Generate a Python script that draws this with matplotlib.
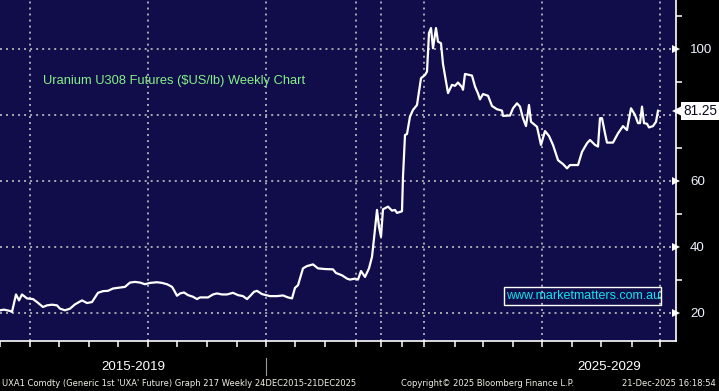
import matplotlib

matplotlib.use("Agg")

import matplotlib.pyplot as plt
import matplotlib.transforms as mtransforms
from matplotlib.patches import Rectangle


WIDTH = 719
HEIGHT = 391
DPI = 100

PANEL = "#100d4a"
OUTER = "#000000"
GRID = "#a9a9b4"
WHITE = "#ffffff"
TITLE_GREEN = "#86f086"
URL_CYAN = "#10e4f0"
FOOT = "#f2f0e2"

# Bloomberg plots by observation position, not calendar time.
obs = [
    0, 4, 10, 12, 16, 19, 22, 27, 33, 37, 43, 47, 52, 57, 60, 65, 70, 75,
    82, 87, 92, 98, 103, 108, 113, 120, 125, 130, 135, 140, 145, 150, 157,
    162, 167, 172, 174, 177, 180, 184, 188, 193, 197, 200, 208, 213, 217,
    222, 227, 233, 238, 243, 247, 250, 254, 257, 262, 270, 277, 283, 288,
    292, 295, 298, 303, 307, 313, 318, 325, 333, 336, 342, 347, 350, 355,
    358, 361, 365, 369, 372, 374, 377, 379, 381, 383, 388, 392, 395, 397,
    402, 403, 405, 407, 410, 413, 417, 421, 425, 427, 429, 431, 433, 436,
    438, 441, 443, 448, 452, 455, 458, 462, 463, 465, 472, 475, 478, 480,
    483, 488, 492, 497, 502, 503, 510, 513, 517, 520, 523, 526, 529, 531,
    537, 541, 545, 549, 553, 558, 560, 563, 567, 570, 578, 582, 587, 590,
    595, 598, 600, 602, 605, 607, 613, 618, 623, 627, 631, 635, 638, 640,
    642, 644, 647, 649, 653, 656, 658,
]
price = [
    20.8, 21.0, 20.6, 20.3, 25.6, 23.8, 25.6, 24.4, 24.2, 23.3, 21.8, 22.3,
    22.5, 22.3, 21.3, 20.8, 21.3, 22.6, 23.8, 23.0, 23.3, 26.1, 26.6, 26.7,
    27.4, 27.7, 27.9, 29.2, 29.4, 29.2, 28.7, 29.1, 29.3, 29.1, 28.7, 27.9,
    26.9, 25.2, 25.9, 26.2, 25.4, 24.9, 24.2, 24.7, 24.7, 25.6, 25.9, 25.6,
    25.6, 26.1, 25.4, 25.1, 24.2, 25.1, 26.4, 26.7, 25.7, 25.1, 25.1, 25.3,
    24.7, 24.4, 27.6, 28.4, 33.5, 34.2, 34.7, 33.5, 33.3, 33.2, 32.1, 31.4,
    30.4, 30.1, 30.4, 30.1, 32.7, 30.9, 33.5, 37.0, 42.5, 51.2, 46.1, 43.1,
    51.4, 52.2, 51.0, 51.2, 50.3, 50.8, 61.3, 73.9, 74.2, 79.5, 81.5, 83.0,
    91.1, 92.1, 93.1, 104.8, 106.3, 100.2, 106.3, 102.2, 101.7, 95.4, 86.6,
    89.1, 88.8, 89.8, 88.4, 87.6, 92.4, 91.9, 88.6, 86.5, 84.7, 86.3, 85.8,
    82.7, 81.7, 81.3, 79.7, 79.8, 82.0, 83.5, 82.5, 79.0, 76.6, 83.0, 77.9,
    76.4, 70.9, 75.1, 73.6, 70.9, 66.3, 65.8, 65.1, 63.8, 64.8, 64.8, 68.8,
    71.4, 72.4, 70.9, 70.4, 79.0, 79.0, 74.4, 71.6, 71.6, 74.4, 76.6, 75.4,
    82.0, 80.0, 77.5, 77.5, 82.5, 77.5, 77.3, 76.2, 76.6, 77.9, 81.25,
]
last_price = 81.25

x_ticks = [
    0, 30, 59, 89, 118, 148, 177, 207, 237, 266, 295, 325, 356, 381, 402,
    424, 455, 483, 513, 542, 572, 601, 632, 660,
]
x_grid = [30, 148, 266, 356, 381, 424, 542, 660]
y_major = [20, 40, 60, 100]
y_grid = [20, 40, 60, 80, 100]
y_minor = [30, 50, 70, 90, 110]
period_labels = ["2015-2019", "2025-2029"]
period_centers = [133, 609]
period_breaks = [266]


def main():
    fig = plt.figure(figsize=(WIDTH / DPI, HEIGHT / DPI), dpi=DPI, facecolor=OUTER)
    ax = fig.add_axes(
        [0, 50 / HEIGHT, 676 / WIDTH, 341 / HEIGHT], facecolor=PANEL
    )
    ax.set_xlim(0, 676)
    ax.set_ylim(11.5, 114.8)

    # Dotted grid.
    for gx in x_grid:
        ax.axvline(gx, color=GRID, linewidth=1.4, linestyle=(0, (1, 2.1)), zorder=1)
    for gy in y_grid:
        ax.axhline(gy, color=GRID, linewidth=1.4, linestyle=(0, (1, 2.1)), zorder=1)

    ax.plot(obs, price, color=WHITE, linewidth=1.6, solid_joinstyle="round", zorder=3)

    for side in ("top", "left"):
        ax.spines[side].set_visible(False)
    for side in ("bottom", "right"):
        ax.spines[side].set_color(WHITE)
        ax.spines[side].set_linewidth(1.2)

    ax.set_xticks(x_ticks)
    ax.set_xticklabels([])
    ax.tick_params(axis="x", direction="out", length=4, width=1.1, color=WHITE)

    ax.yaxis.tick_right()
    ax.set_yticks(y_major)
    ax.set_yticklabels([str(v) for v in y_major])
    ax.set_yticks(y_minor, minor=True)
    ax.tick_params(
        axis="y", which="major", length=0, pad=10, labelsize=9.6,
        labelcolor="#eef3ff",
    )
    ax.tick_params(axis="y", which="minor", direction="out", length=4, width=1.1, color=WHITE)
    for label in ax.get_yticklabels():
        label.set_fontfamily("Liberation Sans")

    edge = mtransforms.blended_transform_factory(ax.transAxes, ax.transData)
    ax.plot(
        [1.0] * len(y_major), y_major, linestyle="none", marker=">",
        markersize=5.5, color=WHITE, markeredgewidth=0, transform=edge,
        clip_on=False, zorder=5,
    )

    # Last price tag.
    ax.plot(
        [1.003], [last_price], linestyle="none", marker="<", markersize=8.5,
        color=WHITE, markeredgewidth=0, transform=edge, clip_on=False, zorder=6,
    )
    ax.text(
        1.011, last_price, f"{last_price:.2f}", transform=edge, ha="left",
        va="center", fontsize=9.8, family="Liberation Sans", color="#0a0a20",
        bbox=dict(boxstyle="square,pad=0.15", facecolor=WHITE, edgecolor="none"),
        clip_on=False, zorder=7,
    )

    fig.text(
        43 / WIDTH, 1 - 81 / HEIGHT, "Uranium U308 Futures ($US/lb) Weekly Chart",
        fontsize=9.3, family="Liberation Sans", color=TITLE_GREEN,
        ha="left", va="center",
    )

    # Website watermark box.
    fig.text(
        583 / WIDTH, 1 - 296 / HEIGHT, "www.marketmatters.com.au",
        fontsize=9.0, family="Liberation Sans", color=URL_CYAN,
        ha="center", va="center",
    )
    fig.patches.append(
        Rectangle(
            (504 / WIDTH, 1 - 305 / HEIGHT), 157 / WIDTH, 18 / HEIGHT,
            transform=fig.transFigure, facecolor="none", edgecolor=WHITE,
            linewidth=1.0,
        )
    )

    # Period labels under the axis.
    axis_to_fig = mtransforms.blended_transform_factory(ax.transData, fig.transFigure)
    for label, center in zip(period_labels, period_centers):
        fig.text(
            center, 1 - 367 / HEIGHT, label, transform=axis_to_fig,
            fontsize=9.6, family="Liberation Sans", color=WHITE,
            ha="center", va="center",
        )
    for px in period_breaks:
        fig.lines.append(
            plt.Line2D(
                [px, px], [1 - 358 / HEIGHT, 1 - 375 / HEIGHT],
                transform=axis_to_fig, color="#9a9a9a", linewidth=0.8,
            )
        )

    # Footer.
    fig.text(
        2 / WIDTH, 1 - 384 / HEIGHT,
        "UXA1 Comdty (Generic 1st 'UXA' Future) Graph 217 Weekly 24DEC2015-21DEC2025",
        fontsize=6.0, family="DejaVu Sans", color=FOOT, ha="left", va="center",
    )
    fig.text(
        401 / WIDTH, 1 - 384 / HEIGHT, "Copyright\u00a9 2025 Bloomberg Finance L.P.",
        fontsize=6.0, family="DejaVu Sans", color=FOOT, ha="left", va="center",
    )
    fig.text(
        716 / WIDTH, 1 - 384 / HEIGHT, "21-Dec-2025 16:18:54",
        fontsize=6.0, family="DejaVu Sans", color=FOOT, ha="right", va="center",
    )

    fig.savefig("out.png", dpi=DPI, facecolor=OUTER)
    plt.close(fig)


if __name__ == "__main__":
    main()
